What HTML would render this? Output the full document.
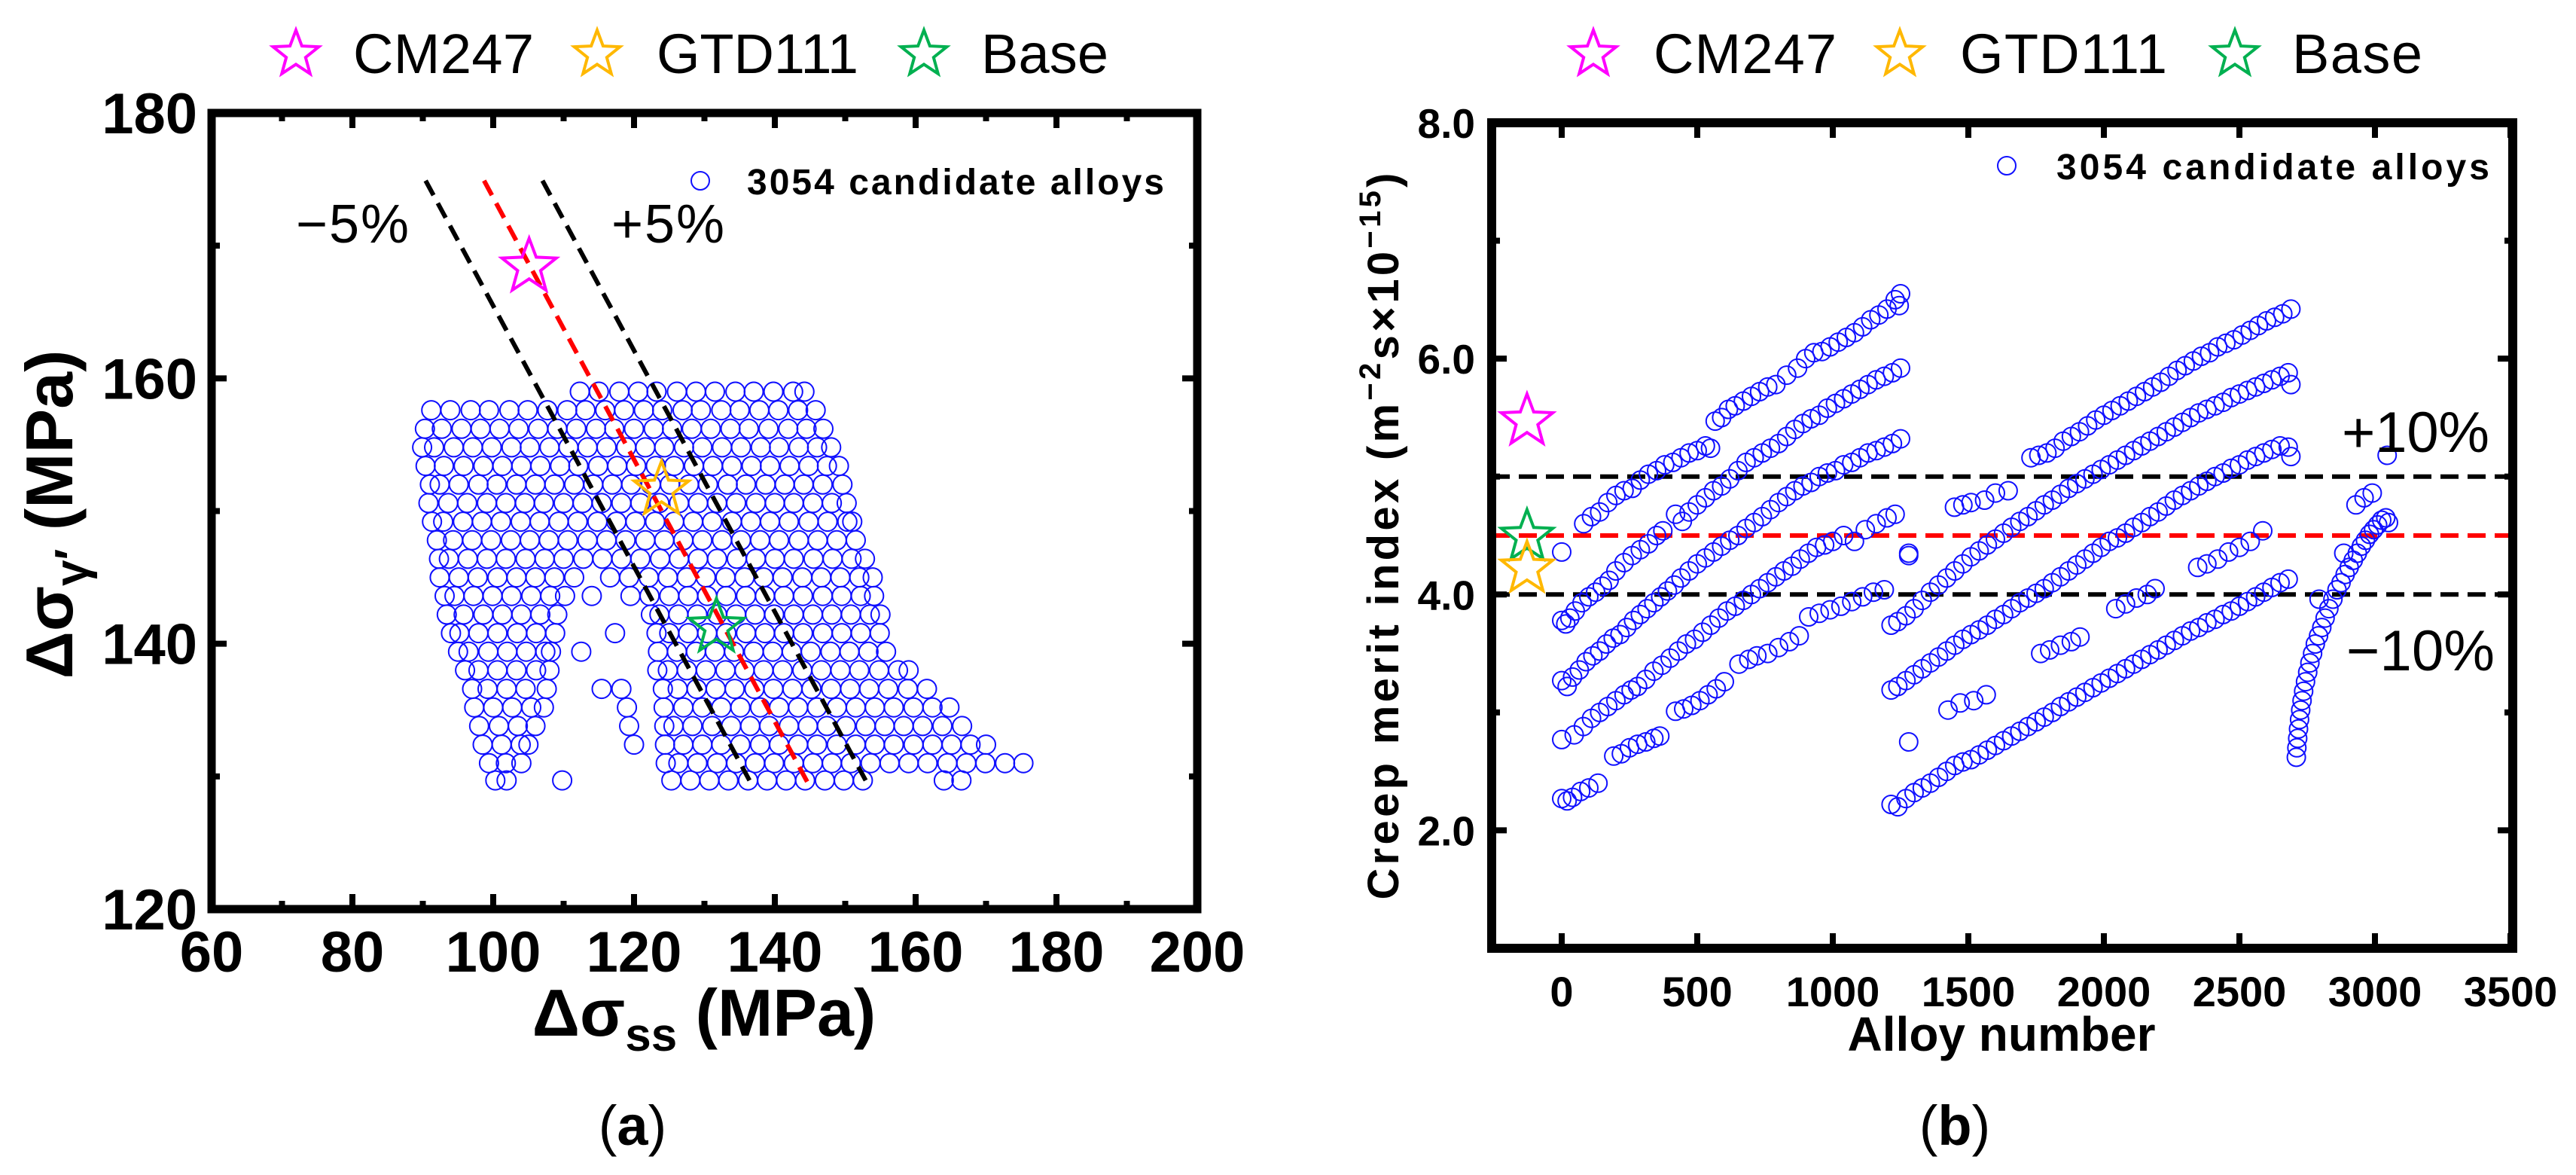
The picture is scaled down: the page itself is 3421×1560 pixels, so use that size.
<!DOCTYPE html>
<html><head><meta charset="utf-8"><style>
html,body{margin:0;padding:0;background:#fff;}
svg{display:block;}
text{font-family:"Liberation Sans",Arial,sans-serif;}
</style></head><body>
<svg id="fig" width="3421" height="1560" viewBox="0 0 3421 1560" xmlns="http://www.w3.org/2000/svg">
<g id="pa"></g>
<g id="pb"></g>
</svg>
<script>
// ---------- Panel (a) data ----------
const aRowY = [159.0,157.6,156.2,154.8,153.4,152.0,150.6,149.2,147.8,146.4,145.0,143.6,142.2,140.8,139.4,138.0,136.6,135.2,133.8,132.4,131.0,129.7];
const aRowX = [
"112.3 115.0 117.9 120.6 123.2 126.1 128.8 131.5 134.4 137.0 139.8 142.6 144.2",
"91.2 93.9 96.8 99.4 102.3 104.9 107.7 110.5 113.1 115.9 118.6 121.4 124.0 126.9 129.5 132.4 135.0 137.8 140.5 143.3 145.8",
"90.3 92.7 95.5 98.2 100.9 103.6 106.4 109.1 111.8 114.6 117.2 120.0 122.8 125.4 128.2 130.9 133.7 136.3 139.1 141.9 144.5 146.9",
"89.9 91.6 94.4 97.1 99.8 102.6 105.2 108.0 110.7 113.4 116.1 118.9 121.6 124.3 127.1 129.7 132.5 135.2 138.0 140.6 143.4 146.0 148.0",
"90.4 93.0 95.8 98.6 101.3 104.0 106.7 109.5 112.1 114.9 117.6 120.3 123.1 125.7 128.5 131.2 133.9 136.7 139.3 142.1 144.8 147.4 149.1",
"91.0 92.4 95.1 97.9 100.5 103.3 106.0 108.7 111.5 114.2 116.9 119.6 122.4 125.1 127.8 130.5 133.3 135.9 138.7 141.4 144.1 146.8 149.6",
"90.8 93.6 96.3 99.1 101.8 104.5 107.2 110.0 112.7 115.4 118.2 120.9 123.6 126.4 129.1 131.8 134.5 137.3 140.0 142.7 145.4 148.1 150.2",
"91.3 92.9 95.7 98.4 101.1 103.9 106.6 109.3 112.0 114.8 117.5 120.2 123.0 125.7 128.4 131.1 133.9 136.6 139.3 142.0 144.8 147.5 150.3 151.0",
"92.0 94.3 97.0 99.7 102.5 105.2 107.9 110.6 113.4 116.1 118.8 121.6 124.3 127.0 129.7 132.5 135.2 137.9 140.6 143.4 146.1 148.8 151.5",
"92.3 93.7 96.4 99.1 101.8 104.6 107.3 110.0 112.8 115.5 118.2 120.9 123.7 126.4 129.1 131.8 134.6 137.3 140.0 142.7 145.5 148.2 150.9 152.8",
"92.4 95.1 97.8 100.6 103.3 106.0 108.7 111.5 116.6 119.3 122.1 124.8 127.5 130.2 133.0 135.7 138.4 141.1 143.9 146.6 149.3 152.0 153.9",
"93.1 94.5 97.2 99.9 102.6 105.4 108.1 110.2 114.0 119.5 122.2 125.0 127.7 130.4 133.1 135.9 138.6 141.3 144.0 146.8 149.5 152.2 154.1",
"93.4 95.8 98.6 101.3 104.0 106.7 109.1 122.4 123.6 126.3 129.0 131.8 134.5 137.2 139.9 142.7 145.4 148.1 150.8 153.5 155.0",
"94.0 95.2 97.9 100.6 103.4 106.1 108.8 117.3 123.2 125.0 127.7 130.4 133.1 135.9 138.6 141.3 144.0 146.8 149.5 152.2 154.9",
"95.0 96.5 99.3 102.0 104.7 107.4 108.2 112.5 123.4 126.1 128.8 131.5 134.2 137.0 139.7 142.4 145.1 147.9 150.6 153.3 155.8",
"96.0 97.9 100.6 103.3 106.1 108.0 123.3 124.8 127.5 130.2 133.0 135.7 138.4 141.1 143.9 146.6 149.3 152.0 154.8 157.5 159.0",
"97.0 99.2 101.9 104.6 107.6 115.4 118.2 124.1 126.2 128.9 131.6 134.3 137.1 139.8 142.5 145.2 148.0 150.7 153.4 156.1 158.9 161.6",
"97.3 100.0 102.7 105.4 107.2 119.0 124.2 127.0 129.7 132.4 135.1 137.9 140.6 143.3 146.0 148.8 151.5 154.2 156.9 159.7 162.4 164.8",
"98.0 100.8 103.5 106.0 119.3 124.3 125.6 128.3 131.1 133.8 136.5 139.2 142.0 144.7 147.4 150.1 152.9 155.6 158.3 161.0 163.8 166.6",
"98.5 101.2 103.9 105.0 120.0 124.4 127.0 129.7 132.4 135.1 137.9 140.6 143.3 146.0 148.8 151.5 154.2 156.9 159.7 162.4 165.1 167.8 170.0",
"99.4 101.8 104.0 124.5 126.3 129.0 131.8 134.5 137.2 139.9 142.7 145.4 148.1 150.8 153.6 156.3 159.0 161.7 164.5 167.2 169.9 172.7 175.3",
"100.3 101.9 109.8 125.3 128.0 130.7 133.4 136.2 138.9 141.6 144.3 147.1 149.8 152.5 164.0 166.5"
];
const aLineMinus = [[90.4,174.9],[136.4,129.7]];
const aLineRef   = [[98.7,174.9],[144.8,129.4]];
const aLinePlus  = [[107.0,174.9],[152.9,129.7]];
const aStars = [["CM247",105.1,168.4,"#ff00ff"],["GTD111",123.9,151.6,"#ffb800"],["Base",131.7,141.25,"#00b050"]];
const aXTicks = [60,80,100,120,140,160,180,200];
const aYTicks = [120,140,160,180];

// ---------- Panel (b) data ----------
const bTop1 = [[81,4.6],[110,4.66],[140,4.7],[170,4.78],[200,4.84],[230,4.88],[260,4.9],[290,4.97],[320,5.02],[350,5.05],[380,5.1],[410,5.12],[440,5.16],[470,5.2],[500,5.22],[530,5.26],[549,5.24],[566,5.47],[590,5.5],[615,5.57],[640,5.6],[670,5.64],[700,5.68],[730,5.72],[760,5.76],[790,5.78],[830,5.86],[870,5.92],[900,6.0],[930,6.05],[960,6.06],[990,6.1],[1020,6.14],[1050,6.18],[1080,6.22],[1110,6.27],[1140,6.33],[1170,6.37],[1200,6.42],[1230,6.5],[1250,6.55],[1245,6.45],[0,4.36]];
const bB1 = [[0,3.78],[15,3.75],[30,3.8],[50,3.86],[75,3.93],[100,3.98],[125,4.02],[150,4.07],[175,4.12],[200,4.2],[230,4.27],[260,4.33],[290,4.38],[320,4.43],[350,4.5],[373,4.54],[420,4.68],[445,4.62],[470,4.7],[500,4.76],[530,4.82],[560,4.88],[590,4.92],[620,4.98],[650,5.05],[680,5.12],[710,5.16],[740,5.2],[770,5.24],[800,5.28],[830,5.34],[860,5.4],[890,5.45],[920,5.49],[950,5.52],[980,5.58],[1010,5.62],[1040,5.66],[1070,5.7],[1100,5.74],[1130,5.78],[1160,5.82],[1190,5.85],[1220,5.88],[1250,5.92]];
const bQ1 = [[0,3.27],[20,3.22],[40,3.3],[65,3.36],[90,3.43],[115,3.48],[140,3.52],[165,3.58],[190,3.63],[215,3.66],[240,3.72],[265,3.78],[290,3.83],[315,3.88],[340,3.93],[365,3.98],[390,4.03],[415,4.08],[440,4.14],[470,4.2],[500,4.26],[530,4.31],[560,4.36],[590,4.41],[620,4.46],[650,4.5],[680,4.56],[710,4.61],[740,4.66],[770,4.72],[800,4.78],[830,4.83],[860,4.88],[890,4.92],[920,4.95],[950,5.0],[980,5.03],[1010,5.05],[1040,5.1],[1070,5.12],[1100,5.16],[1130,5.2],[1160,5.22],[1190,5.25],[1220,5.28],[1250,5.32]];
const bR1 = [[0,2.77],[46,2.81],[80,2.88],[110,2.95],[140,3.0],[170,3.05],[200,3.1],[230,3.15],[256,3.19],[280,3.22],[310,3.28],[340,3.35],[370,3.4],[400,3.46],[430,3.52],[460,3.58],[490,3.62],[520,3.68],[550,3.74],[580,3.8],[610,3.86],[640,3.9],[670,3.95],[700,4.0],[730,4.05],[760,4.1],[790,4.15],[820,4.2],[850,4.24],[880,4.3],[910,4.35],[940,4.4],[970,4.42],[1000,4.45],[1040,4.5],[1080,4.45],[1120,4.55],[1160,4.6],[1200,4.65],[1230,4.68],[1280,4.35]];
const bD1 = [[0,2.27],[20,2.25],[40,2.28],[70,2.33],[100,2.36],[134,2.4],[192,2.63],[220,2.65],[250,2.7],[280,2.73],[310,2.75],[340,2.78],[362,2.8],[420,3.01],[450,3.03],[480,3.06],[510,3.1],[540,3.15],[570,3.2],[600,3.26],[654,3.41],[690,3.45],[720,3.48],[760,3.5],[800,3.55],[840,3.6],[876,3.65],[911,3.81],[950,3.84],[990,3.87],[1030,3.9],[1070,3.94],[1110,3.98],[1150,4.02],[1190,4.04]];
const bTop2 = [[1449,4.74],[1480,4.76],[1510,4.78],[1560,4.8],[1600,4.86],[1647,4.88],[1731,5.16],[1760,5.18],[1790,5.2],[1820,5.24],[1850,5.3],[1880,5.34],[1910,5.38],[1940,5.43],[1970,5.48],[2000,5.52],[2030,5.56],[2060,5.6],[2090,5.64],[2120,5.68],[2150,5.72],[2180,5.76],[2210,5.8],[2240,5.85],[2270,5.9],[2300,5.94],[2330,5.98],[2360,6.02],[2390,6.05],[2420,6.1],[2450,6.13],[2480,6.16],[2510,6.2],[2540,6.24],[2570,6.28],[2600,6.32],[2630,6.35],[2660,6.38],[2690,6.42]];
const bB2 = [[1215,3.74],[1240,3.77],[1270,3.82],[1300,3.88],[1330,3.95],[1360,4.02],[1390,4.08],[1420,4.14],[1450,4.2],[1480,4.26],[1510,4.32],[1540,4.37],[1570,4.42],[1600,4.47],[1630,4.52],[1660,4.57],[1690,4.62],[1720,4.66],[1750,4.71],[1780,4.76],[1810,4.8],[1840,4.85],[1870,4.9],[1900,4.94],[1930,4.98],[1960,5.02],[1990,5.06],[2020,5.1],[2050,5.14],[2080,5.18],[2110,5.22],[2140,5.26],[2170,5.3],[2200,5.34],[2230,5.38],[2260,5.42],[2290,5.46],[2320,5.5],[2350,5.54],[2380,5.57],[2410,5.6],[2440,5.63],[2470,5.67],[2500,5.7],[2530,5.73],[2560,5.76],[2590,5.79],[2620,5.82],[2650,5.85],[2680,5.88],[2690,5.78]];
const bQ2 = [[1215,3.19],[1240,3.22],[1270,3.27],[1300,3.32],[1330,3.37],[1360,3.42],[1390,3.47],[1420,3.52],[1450,3.57],[1480,3.62],[1510,3.66],[1540,3.7],[1570,3.74],[1600,3.79],[1630,3.83],[1660,3.88],[1690,3.93],[1720,3.97],[1750,4.01],[1780,4.05],[1810,4.1],[1840,4.15],[1870,4.2],[1900,4.25],[1930,4.3],[1960,4.35],[1990,4.4],[2020,4.45],[2050,4.48],[2080,4.52],[2110,4.57],[2140,4.61],[2170,4.66],[2200,4.7],[2230,4.75],[2260,4.8],[2290,4.84],[2320,4.88],[2350,4.92],[2380,4.96],[2410,5.0],[2440,5.03],[2470,5.07],[2500,5.1],[2530,5.14],[2560,5.17],[2590,5.2],[2620,5.23],[2650,5.26],[2680,5.25],[2690,5.17]];
const bR2 = [[1280,4.33],[1425,3.02],[1470,3.08],[1520,3.1],[1566,3.15],[1767,3.5],[1800,3.53],[1840,3.57],[1880,3.6],[1912,3.64],[2044,3.88],[2080,3.92],[2120,3.97],[2160,4.0],[2189,4.05],[2346,4.23],[2380,4.26],[2420,4.3],[2460,4.36],[2500,4.4],[2540,4.45],[2586,4.54]];
const bD2 = [[1215,2.22],[1240,2.2],[1270,2.27],[1300,2.32],[1330,2.36],[1360,2.4],[1390,2.45],[1420,2.5],[1450,2.55],[1480,2.58],[1510,2.6],[1540,2.64],[1570,2.68],[1600,2.72],[1630,2.76],[1660,2.8],[1690,2.84],[1720,2.88],[1750,2.92],[1780,2.96],[1810,3.0],[1840,3.05],[1870,3.09],[1900,3.13],[1930,3.17],[1960,3.21],[1990,3.25],[2020,3.29],[2050,3.33],[2080,3.37],[2110,3.41],[2140,3.45],[2170,3.49],[2200,3.53],[2230,3.57],[2260,3.61],[2290,3.65],[2320,3.69],[2350,3.72],[2380,3.76],[2410,3.79],[2440,3.83],[2470,3.86],[2500,3.9],[2530,3.94],[2560,3.98],[2590,4.02],[2620,4.06],[2650,4.1],[2680,4.13],[1280,2.75]];
const bTail = [[2710,2.62],[2712,2.7],[2715,2.78],[2718,2.86],[2722,2.94],[2726,3.02],[2731,3.1],[2737,3.18],[2744,3.26],[2752,3.34],[2760,3.42],[2770,3.5],[2780,3.58],[2792,3.65],[2804,3.72],[2816,3.8],[2830,3.88],[2845,3.96],[2860,4.04],[2875,4.1],[2890,4.17],[2905,4.23],[2920,4.29],[2935,4.35],[2950,4.41],[2965,4.46],[2980,4.51],[2995,4.55],[3010,4.59],[3025,4.63],[3040,4.65],[3050,4.61],[2794,3.96],[2885,4.35],[2930,4.76],[2960,4.82],[2990,4.86],[3045,5.18]];
const bStars = [["CM247",-128,5.47,"#ff00ff"],["Base",-128,4.49,"#00b050"],["GTD111",-128,4.22,"#ffb800"]];
const bHLines = [5.0,4.5,4.0];
const bXTicks = [0,500,1000,1500,2000,2500,3000,3500];
const bYTicks = [2.0,4.0,6.0,8.0];
const bYMinor = [1.0,3.0,5.0,7.0];

// ---------- helpers ----------
const NS = "http://www.w3.org/2000/svg";
function mk(parent, tag, attrs, txt){
  const e = document.createElementNS(NS, tag);
  for (const k in attrs) e.setAttribute(k, attrs[k]);
  if (txt !== undefined) e.textContent = txt;
  parent.appendChild(e);
  return e;
}
function starPts(cx, cy, R){
  const r = R*0.42; let p = [];
  for (let i=0;i<10;i++){
    const a = -Math.PI/2 + i*Math.PI/5;
    const rr = i%2===0 ? R : r;
    p.push((cx+rr*Math.cos(a)).toFixed(1)+","+(cy+rr*Math.sin(a)).toFixed(1));
  }
  return p.join(" ");
}

// ---------- Panel (a) ----------
const A = document.getElementById('pa');
const aL=281, aR=1590, aT=150, aB=1207;
const ax = v => aL + (v-60)*(aR-aL)/140;
const ay = v => aB - (v-120)*(aB-aT)/60;

const aPts = mk(A,'g',{});


aRowY.forEach((yv,i)=>{
  aRowX[i].split(' ').forEach(xs=>{
    const c = mk(aPts,'circle',{cx:ax(parseFloat(xs)).toFixed(1), cy:ay(yv).toFixed(1), r:12.5, fill:'none', stroke:'#1010ff','stroke-width':2});
    
    
  });
});
function aLine(pts,color,name){
  const l = mk(A,'line',{x1:ax(pts[0][0]),y1:ay(pts[0][1]),x2:ax(pts[1][0]),y2:ay(pts[1][1]),stroke:color,'stroke-width':6,'stroke-dasharray':'22 12'});
  
  
}
aLine(aLineMinus,'#000','minus-5-percent-line');
aLine(aLinePlus,'#000','plus-5-percent-line');
aLine(aLineRef,'#ff0000','reference-line');
aStars.forEach(s=>{
  const p = mk(A,'polygon',{points:starPts(ax(s[1]),ay(s[2]),38),fill:'none',stroke:s[3],'stroke-width':4});
  
  
});
// frame
const aF = mk(A,'rect',{x:aL,y:aT,width:aR-aL,height:aB-aT,fill:'none',stroke:'#000','stroke-width':11});


// ticks
for (let v=60; v<=200; v+=10){
  const len = (v%20===0)?20:11;
  mk(A,'line',{x1:ax(v),y1:aB,x2:ax(v),y2:aB-len,stroke:'#000','stroke-width':8});
  mk(A,'line',{x1:ax(v),y1:aT,x2:ax(v),y2:aT+len,stroke:'#000','stroke-width':8});
}
for (let v=120; v<=180; v+=10){
  const len = (v%20===0)?20:11;
  mk(A,'line',{x1:aL,y1:ay(v),x2:aL+len,y2:ay(v),stroke:'#000','stroke-width':8});
  mk(A,'line',{x1:aR,y1:ay(v),x2:aR-len,y2:ay(v),stroke:'#000','stroke-width':8});
}
aXTicks.forEach(v=>{
  const t = mk(A,'text',{x:ax(v),y:1290,'font-size':76,'font-weight':'bold','text-anchor':'middle'},String(v));
  
  
});
aYTicks.forEach(v=>{
  const t = mk(A,'text',{x:262,y:ay(v)+27,'font-size':76,'font-weight':'bold','text-anchor':'end'},String(v));
  
  
});
</script>
<script>
// static text for panel (a) & (b)
</script>
<g></g>
<script>
const F = document.getElementById('fig');
function addText(parent, attrs, html, name){
  const t = document.createElementNS(NS,'text');
  for (const k in attrs) t.setAttribute(k, attrs[k]);
  t.innerHTML = html;
  
  
  parent.appendChild(t);
  return t;
}
// panel a titles
addText(A,{x:935,y:1375,'font-size':88,'font-weight':'bold','text-anchor':'middle'},'Δσ<tspan font-size="62" dy="20">ss</tspan><tspan dy="-20"> (MPa)</tspan>','x-axis-title-a');
addText(A,{x:0,y:0,transform:'translate(96,683) rotate(-90)','font-size':88,'font-weight':'bold','text-anchor':'middle'},'Δσ<tspan font-size="62" dy="20">γ′</tspan><tspan dy="-20"> (MPa)</tspan>','y-axis-title-a');
addText(A,{x:393,y:322,'font-size':72,textLength:150},'−5%','minus-5-percent-label');
addText(A,{x:812,y:322,'font-size':72,textLength:150},'+5%','plus-5-percent-label');
addText(A,{x:840,y:1520,'font-size':74,'text-anchor':'middle','font-family':'Liberation Serif, serif'},'(<tspan font-weight="bold">a</tspan>)','panel-label-a');
// legend inside a
const la = mk(A,'circle',{cx:930,cy:240,r:12,fill:'none',stroke:'#1010ff','stroke-width':2});


addText(A,{x:992,y:258,'font-size':48,'font-weight':'bold',textLength:554},'3054 candidate alloys','legend-text-a');
// top legend a
[[393,469,240,'CM247','#ff00ff'],[793,872,268,'GTD111','#ffb800'],[1227,1303,169,'Base','#00b050']].forEach(l=>{
  const s = mk(A,'polygon',{points:starPts(l[0],72,32),fill:'none',stroke:l[4],'stroke-width':4});
  
  
  addText(A,{x:l[1],y:97,'font-size':74,textLength:l[2]},l[3],'legend-entry-'+l[3].toLowerCase());
});

// ---------- Panel (b) ----------
const B = document.getElementById('pb');
const bL=1981, bR=3337, bT=163, bB=1259;
const bx = v => 2074 + v*0.36;
const by = v => bB - (v-1)*(bB-bT)/7;
bHLines.forEach(v=>{
  const l = mk(B,'line',{x1:bL,y1:by(v),x2:bR,y2:by(v),stroke:v===4.5?'#ff0000':'#000','stroke-width':6,'stroke-dasharray':'24 12'});
  
  
});
const bG = mk(B,'g',{});


[bTop1,bB1,bQ1,bR1,bD1,bTop2,bB2,bQ2,bR2,bD2,bTail].forEach(series=>{
  series.forEach(p=>{
    const c = mk(bG,'circle',{cx:bx(p[0]).toFixed(1),cy:by(p[1]).toFixed(1),r:12,fill:'none',stroke:'#1010ff','stroke-width':2});
    
    
  });
});
bStars.forEach(s=>{
  const p = mk(B,'polygon',{points:starPts(bx(s[1]),by(s[2]),36),fill:'none',stroke:s[3],'stroke-width':4});
  
  
});
const bF = mk(B,'rect',{x:bL,y:bT,width:bR-bL,height:bB-bT,fill:'none',stroke:'#000','stroke-width':12});


bXTicks.forEach(v=>{
  mk(B,'line',{x1:bx(v),y1:bB,x2:bx(v),y2:bB-20,stroke:'#000','stroke-width':8});
  mk(B,'line',{x1:bx(v),y1:bT,x2:bx(v),y2:bT+20,stroke:'#000','stroke-width':8});
  const t = mk(B,'text',{x:bx(v),y:1336,'font-size':56,'font-weight':'bold','text-anchor':'middle'},String(v));
  
  
});
bYTicks.forEach(v=>{
  mk(B,'line',{x1:bL,y1:by(v),x2:bL+20,y2:by(v),stroke:'#000','stroke-width':8});
  mk(B,'line',{x1:bR,y1:by(v),x2:bR-20,y2:by(v),stroke:'#000','stroke-width':8});
  const t = mk(B,'text',{x:1959,y:by(v)+20,'font-size':55,'font-weight':'bold','text-anchor':'end'},v.toFixed(1));
  
  
});
bYMinor.forEach(v=>{
  mk(B,'line',{x1:bL,y1:by(v),x2:bL+11,y2:by(v),stroke:'#000','stroke-width':8});
  mk(B,'line',{x1:bR,y1:by(v),x2:bR-11,y2:by(v),stroke:'#000','stroke-width':8});
});
addText(B,{x:2658,y:1395,'font-size':64,'font-weight':'bold','text-anchor':'middle'},'Alloy number','x-axis-title-b');
addText(B,{x:0,y:0,transform:'translate(1857,712) rotate(-90)','font-size':58,'font-weight':'bold','text-anchor':'middle',textLength:965},'Creep merit index (m<tspan font-size="40" dy="-24">−2</tspan><tspan dy="24">s×10</tspan><tspan font-size="40" dy="-24">−15</tspan><tspan dy="24">)</tspan>','y-axis-title-b');
addText(B,{x:3110,y:600,'font-size':76,textLength:196},'+10%','plus-10-percent-label');
addText(B,{x:3116,y:890,'font-size':76,textLength:197},'−10%','minus-10-percent-label');
addText(B,{x:2596,y:1520,'font-size':74,'text-anchor':'middle','font-family':'Liberation Serif, serif'},'(<tspan font-weight="bold">b</tspan>)','panel-label-b');
const lb = mk(B,'circle',{cx:2665,cy:220,r:12,fill:'none',stroke:'#1010ff','stroke-width':2});


addText(B,{x:2731,y:238,'font-size':48,'font-weight':'bold',textLength:575},'3054 candidate alloys','legend-text-b');
[[2116,2196,243,'CM247','#ff00ff'],[2523,2603,275,'GTD111','#ffb800'],[2968,3044,173,'Base','#00b050']].forEach(l=>{
  const s = mk(B,'polygon',{points:starPts(l[0],72,32),fill:'none',stroke:l[4],'stroke-width':4});
  
  
  addText(B,{x:l[1],y:97,'font-size':74,textLength:l[2]},l[3],'legend-entry-b-'+l[3].toLowerCase());
});
</script>
</body></html>
